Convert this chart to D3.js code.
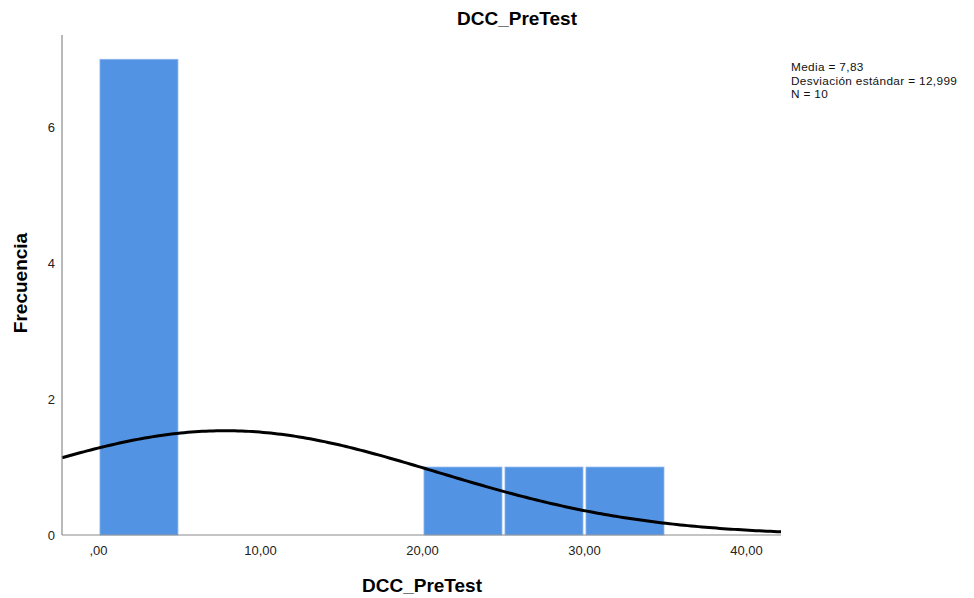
<!DOCTYPE html>
<html>
<head>
<meta charset="utf-8">
<script src="https://cdn.jsdelivr.net/npm/d3@7"></script>
<style>
  body { margin: 0; background: #fff; }
  text { font-family: "Liberation Sans", Arial, sans-serif; }
</style>
</head>
<body>
<svg width="974" height="598"></svg>
<script>
// histogram bins (lower edge, upper edge) and counts
const binLo = [0, 20, 25, 30]
const binHi = [5, 25, 30, 35]
const counts = [7, 1, 1, 1]

const xTicks = [0, 10, 20, 30, 40]
const xTickLabels = [",00", "10,00", "20,00", "30,00", "40,00"]
const yTicks = [0, 2, 4, 6]

// stats shown in the box, used for the normal curve
const mean = 7.83
const sd = 12.999
const n = 10
const binWidth = 5
const statLines = ["Media = 7,83", "Desviación estándar = 12,999", "N = 10"]

const svg = d3.select("svg")
const plotL = 62, plotR = 781, plotT = 35, plotB = 535

const x = d3.scaleLinear().domain([-2.25, 42.13]).range([plotL, plotR])
const y = d3.scaleLinear().domain([0, 7]).range([plotB, 59.3])

const barColor = "#5393e4"
const bins = counts.map((c, i) => ({lo: binLo[i], hi: binHi[i], count: c}))

svg.selectAll(".bar")
    .data(bins)
    .enter().append("rect")
    .attr("class", "bar")
    .attr("x", d => x(d.lo) + 1.5)
    .attr("width", d => x(d.hi) - x(d.lo) - 3)
    .attr("y", d => y(d.count))
    .attr("height", d => y(0) - y(d.count))
    .attr("fill", barColor)
    .attr("stroke", "#8db6ef")
    .attr("stroke-width", 0.8)

// normal curve
const curvePts = d3.range(0, 201).map(i => {
    const v = x.domain()[0] + (x.domain()[1] - x.domain()[0]) * i / 200
    const dens = n * binWidth / (sd * Math.sqrt(2 * Math.PI)) * Math.exp(-0.5 * ((v - mean) / sd) ** 2)
    return [v, dens]
})
svg.append("path")
    .datum(curvePts)
    .attr("fill", "none")
    .attr("stroke", "#000")
    .attr("stroke-width", 3)
    .attr("d", d3.line().x(d => x(d[0])).y(d => y(d[1])))

// axes lines
svg.append("line")
    .attr("x1", plotL).attr("x2", plotL).attr("y1", plotT).attr("y2", plotB)
    .attr("stroke", "#8a8a8a").attr("stroke-width", 1.2)
svg.append("line")
    .attr("x1", plotL).attr("x2", plotR).attr("y1", plotB).attr("y2", plotB)
    .attr("stroke", "#8a8a8a").attr("stroke-width", 1.2)

svg.selectAll(".xtick")
    .data(xTicks)
    .enter().append("text")
    .attr("class", "xtick")
    .attr("x", d => x(d))
    .attr("y", 555)
    .attr("text-anchor", "middle")
    .attr("font-size", 13)
    .attr("fill", "#222")
    .text((d, i) => xTickLabels[i])

svg.selectAll(".ytick")
    .data(yTicks)
    .enter().append("text")
    .attr("class", "ytick")
    .attr("x", 55)
    .attr("y", d => y(d) + 5)
    .attr("text-anchor", "end")
    .attr("font-size", 13)
    .attr("fill", "#222")
    .text(d => d)

// titles
svg.append("text")
    .attr("x", 517).attr("y", 25)
    .attr("text-anchor", "middle")
    .attr("font-size", 19).attr("font-weight", "bold")
    .text("DCC_PreTest")

svg.append("text")
    .attr("x", 422).attr("y", 592)
    .attr("text-anchor", "middle")
    .attr("font-size", 19).attr("font-weight", "bold")
    .text("DCC_PreTest")

svg.append("text")
    .attr("transform", "translate(27,283) rotate(-90)")
    .attr("text-anchor", "middle")
    .attr("font-size", 19).attr("font-weight", "bold")
    .text("Frecuencia")

svg.selectAll(".stat")
    .data(statLines)
    .enter().append("text")
    .attr("class", "stat")
    .attr("x", 791)
    .attr("y", (d, i) => 71 + i * 13.5)
    .attr("font-size", 11.8)
    .attr("letter-spacing", 0.35)
    .attr("fill", "#111")
    .text(d => d)
</script>
</body>
</html>
